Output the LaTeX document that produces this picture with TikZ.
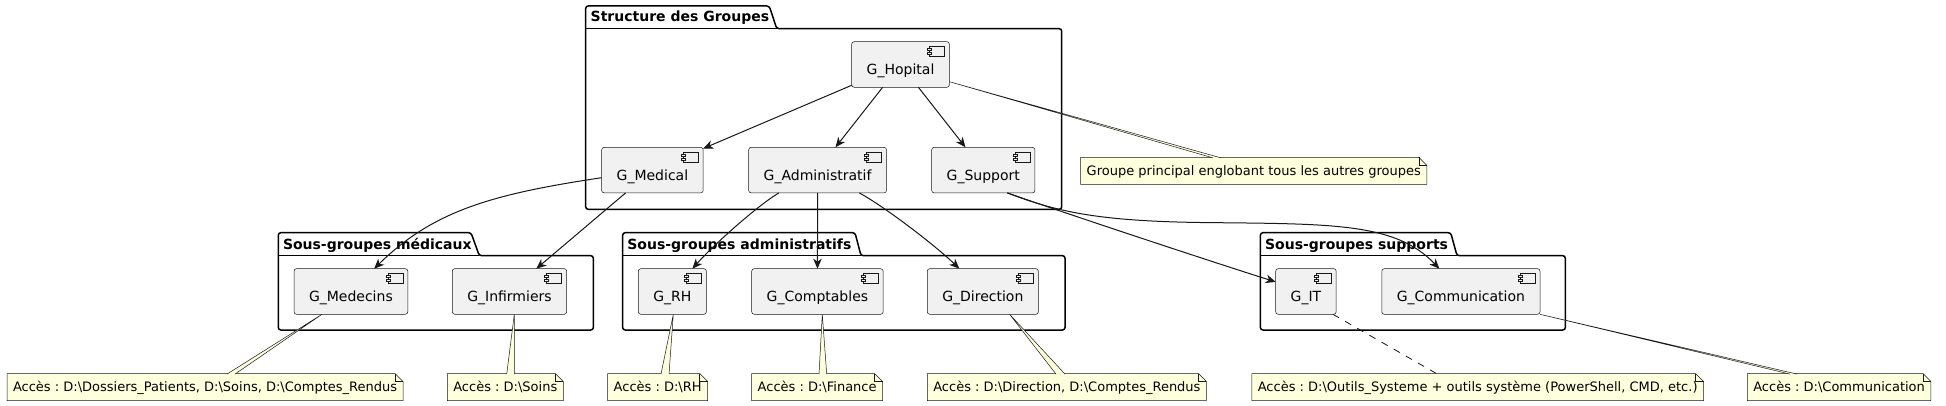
\documentclass[tikz,border=0pt]{standalone}
\usepackage{fontspec}
\setmainfont{DejaVu Sans}
\usetikzlibrary{arrows.meta,calc}
\definecolor{compfill}{HTML}{F1F1F1}
\definecolor{lncol}{HTML}{181818}
\definecolor{notefill}{HTML}{FEFFDD}
\newcommand{\mkcomp}[4]{%
  \node[compbox, anchor=north west] (#1) at (#2,#3) {#4\hspace{10pt}};
  \draw[icn] ($(#1.north east)+(-20,5)$) rectangle ($(#1.north east)+(-5,15)$);
  \draw[icn] ($(#1.north east)+(-22,7)$) rectangle ($(#1.north east)+(-18,9)$);
  \draw[icn] ($(#1.north east)+(-22,11)$) rectangle ($(#1.north east)+(-18,13)$);
}
\newcommand{\mknote}[4]{%
  \node[notebox, anchor=north west] (#1) at (#2,#3) {#4\hspace{10pt}};
  \fill[white] ($(#1.north east)+(-8,0)$) -- (#1.north east) -- ($(#1.north east)+(0,8)$) -- cycle;
  \draw[noteln] (#1.north west) -- ($(#1.north east)+(-8,0)$) -- ($(#1.north east)+(0,8)$) -- (#1.south east) -- (#1.south west) -- cycle;
  \draw[noteln] ($(#1.north east)+(-8,0)$) -- ($(#1.north east)+(-8,8)$) -- ($(#1.north east)+(0,8)$);
}
\newcommand{\mktail}[3]{%
  \fill[notefill] (#1) -- (#2) -- (#3) -- cycle;
  \draw[noteln] (#2) -- (#1) -- (#3);
}
\frenchspacing
\begin{document}
\begin{tikzpicture}[x=1pt,y=-1pt,
  compbox/.style={draw=lncol, line width=0.5pt, fill=compfill, rounded corners=2.5pt,
    inner xsep=15pt, inner ysep=0pt, outer sep=0pt, minimum height=45.6pt,
    text height=22pt, text depth=1.6pt, font=\fontsize{14}{16}\selectfont},
  icn/.style={draw=lncol, line width=0.5pt, fill=compfill},
  notebox/.style={fill=notefill, inner xsep=6pt, inner ysep=0pt, outer sep=0pt,
    minimum height=27pt, text height=11pt, text depth=1.4pt, font=\fontsize{13}{15}\selectfont},
  noteln/.style={draw=lncol, line width=0.5pt},
  pkg/.style={draw=black, line width=1.5pt, rounded corners=2.5pt},
  pkgtitle/.style={inner sep=0pt, anchor=base west, font=\bfseries\fontsize{14}{16}\selectfont},
  arr/.style={draw=lncol, line width=1pt, -{Stealth[length=10pt, width=8.5pt, inset=3pt]}},
]
\useasboundingbox (0,0) rectangle (1946,406);
\fill[white] (0,0) rectangle (1946,406);

% packages
\draw[pkg] (585.7,28.7) -- (585.7,6) -- (769.3,6) -- (776.7,28.7) -- (1061.7,28.7) -- (1061.7,209.3) -- (585.7,209.3) -- cycle;
\draw[pkg] (585.7,28.7) -- (776.7,28.7);
\node[pkgtitle] (tstruct) at (590.5,22) {Structure des Groupes};

\draw[pkg] (278.3,255.7) -- (278.3,232.7) -- (471,232.7) -- (479.3,255.7) -- (593.3,255.7) -- (593.3,330) -- (278.3,330) -- cycle;
\draw[pkg] (278.3,255.7) -- (479.3,255.7);
\node[pkgtitle] (tmed) at (282.8,249) {Sous-groupes médicaux};

\draw[pkg] (622.7,255.7) -- (622.7,232.7) -- (855,232.7) -- (861,255.7) -- (1065,255.7) -- (1065,330) -- (622.7,330) -- cycle;
\draw[pkg] (622.7,255.7) -- (861,255.7);
\node[pkgtitle] (tadm) at (627.2,249) {Sous-groupes administratifs};

\draw[pkg] (1260.4,255.7) -- (1260.4,232.7) -- (1450.7,232.7) -- (1457,255.7) -- (1565.3,255.7) -- (1565.3,330) -- (1260.4,330) -- cycle;
\draw[pkg] (1260.4,255.7) -- (1457,255.7);
\node[pkgtitle] (tsup) at (1264.9,249) {Sous-groupes supports};

% components
\mkcomp{hop}{851.7}{41.7}{G\_Hopital}
\mkcomp{med}{601.7}{147.3}{G\_Medical}
\mkcomp{adm}{748.7}{147.3}{G\_Administratif}
\mkcomp{sup}{931.7}{147.3}{G\_Support}
\mkcomp{mdc}{294}{268.7}{G\_Medecins}
\mkcomp{inf}{452.3}{268.7}{G\_Infirmiers}
\mkcomp{rh}{638.3}{268.7}{G\_RH}
\mkcomp{cpt}{751.7}{268.7}{G\_Comptables}
\mkcomp{dir}{927.3}{268.7}{G\_Direction}
\mkcomp{it}{1275.7}{268.7}{G\_IT}
\mkcomp{cmm}{1381.8}{268.7}{G\_Communication}

% notes
\mknote{nhop}{1080.7}{157.3}{Groupe principal englobant tous les autres groupes}
\mknote{nmed}{7}{373.5}{Accès : D:\textbackslash Dossiers\_Patients, D:\textbackslash Soins, D:\textbackslash Comptes\_Rendus}
\mknote{ninf}{447.3}{373.5}{Accès : D:\textbackslash Soins}
\mknote{nrh}{607.7}{373.5}{Accès : D:\textbackslash RH}
\mknote{nfin}{751.7}{373.5}{Accès : D:\textbackslash Finance}
\mknote{ndir}{927.3}{373.5}{Accès : D:\textbackslash Direction, D:\textbackslash Comptes\_Rendus}
\mknote{nit}{1251.8}{373.5}{Accès : D:\textbackslash Outils\_Systeme + outils système (PowerShell, CMD, etc.)}
\mknote{ncom}{1747.3}{373.5}{Accès : D:\textbackslash Communication}

% note tails
\mktail{$(hop.east)+(0,17.2)$}{$(nhop.north west)+(132.3,0.6)$}{$(nhop.north west)+(140.3,0.6)$}
\mktail{$(mdc.south west)+(28,0)$}{$(nmed.north west)+(220,0.6)$}{$(nmed.north west)+(228,0.6)$}
\mktail{$(inf.south west)+(62,0)$}{$(ninf.north west)+(59.4,0.6)$}{$(ninf.north west)+(67,0.6)$}
\mktail{$(rh.south west)+(35,0)$}{$(nrh.north west)+(53.3,0.6)$}{$(nrh.north west)+(61.3,0.6)$}
\mktail{$(cpt.south west)+(70.6,0)$}{$(nfin.north west)+(67.3,0.6)$}{$(nfin.north west)+(75,0.6)$}
\mktail{$(dir.south west)+(82.3,0)$}{$(ndir.north west)+(128.7,0.6)$}{$(ndir.north west)+(137.7,0.6)$}
\mktail{cmm.south east}{$(ncom.north west)+(42.7,0.6)$}{$(ncom.north west)+(49.7,0.6)$}
\draw[draw=lncol, line width=0.8pt, dash pattern=on 7pt off 7pt] ($(it.south west)+(57.2,0)$) -- ($(nit.north west)+(184.6,0)$);

% arrows
\draw[arr] (hop) -- (med);
\draw[arr] (hop) -- (adm);
\draw[arr] (hop) -- (sup);
\draw[arr] (med) -- (inf);
\draw[arr] (adm) -- (cpt);
\draw[arr] (med) .. controls (490.7,194.3) and (432.8,211.2) .. (mdc);
\draw[arr] (adm) .. controls (757.5,205.5) and (712.5,245.9) .. (rh);
\draw[arr] (adm) .. controls (885.3,207.1) and (935.75,245.9) .. (dir);
\draw[arr] ($(sup.south east)+(-27.6,0)$) .. controls (1050,208) and (1200,258) .. (it);
\draw[arr] ($(sup.south east)+(-27.6,0)$) .. controls (1055,211) and (1095,221) .. (1200,222.5)
  .. controls (1330,224) and (1395,222) .. (cmm);
\end{tikzpicture}
\end{document}
